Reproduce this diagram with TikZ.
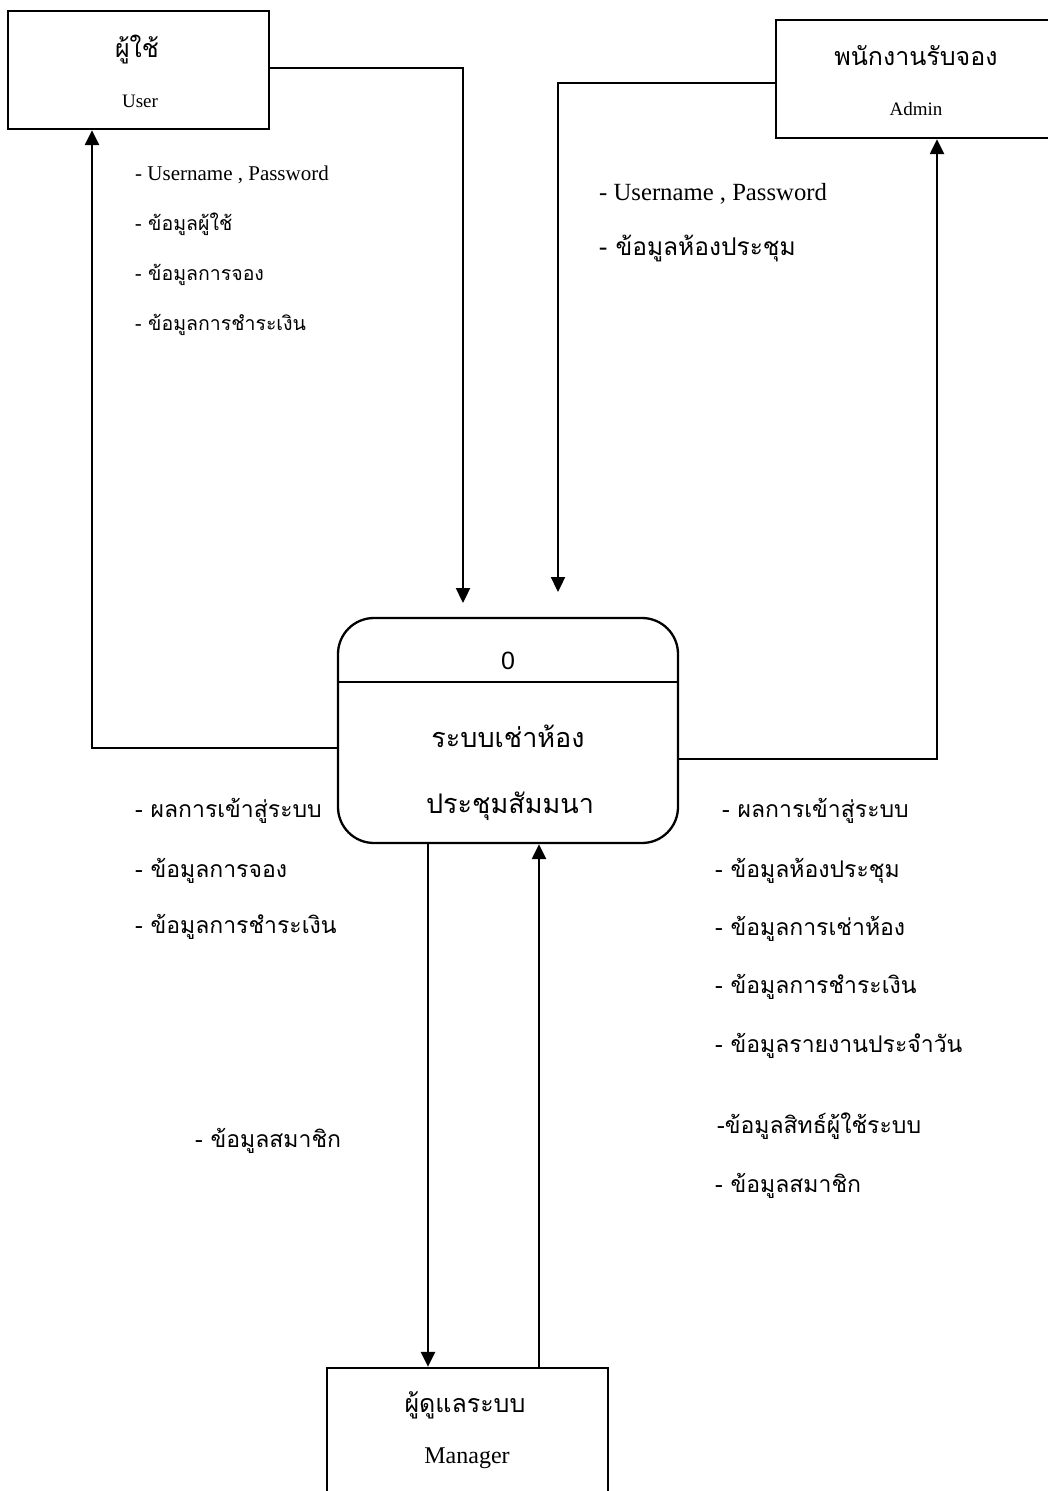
\documentclass[tikz,border=0pt]{standalone}
\usepackage{fontspec}
\setmainfont{Liberation Serif}
\newfontfamily\thai[Script=Thai]{Loma}
\newfontfamily\zsans{Liberation Sans}
\usetikzlibrary{arrows.meta}
\tikzset{
  box/.style={draw, line width=2.3pt, rectangle, inner sep=0pt},
  arr/.style={line width=2.3pt, -{Triangle[length=15pt,width=14pt]}},
  ln/.style={line width=2.3pt},
  th/.style={inner sep=0pt, anchor=base, font=\thai\fontsize{25}{30}\selectfont},
  thp/.style={inner sep=0pt, anchor=base, font=\thai\fontsize{27}{32}\selectfont},
  en/.style={inner sep=0pt, anchor=base, font=\fontsize{19}{23}\selectfont},
  lbl/.style={inner sep=0pt, anchor=base west, font=\thai\fontsize{23}{28}\selectfont},
  lblt/.style={inner sep=0pt, anchor=base west, font=\thai\fontsize{24.5}{29}\selectfont},
  lbls/.style={inner sep=0pt, anchor=base west, font=\thai\fontsize{19.5}{24}\selectfont},
  lblen/.style={inner sep=0pt, anchor=base west, font=\fontsize{24.7}{29}\selectfont},
  lblens/.style={inner sep=0pt, anchor=base west, font=\fontsize{21}{25}\selectfont},
}
\begin{document}
\begin{tikzpicture}[x=1pt,y=-1pt]
\useasboundingbox (0,0) rectangle (1048,1491);
% boxes
\node[box, minimum width=261pt, minimum height=118pt] (user) at (138.5,70) {};
\node[box, minimum width=276pt, minimum height=118pt] (admin) at (914,79) {};
\node[box, minimum width=340pt, minimum height=225pt, rounded corners=36pt] (proc) at (508,730.5) {};
\node[box, minimum width=281pt, minimum height=140pt] (mgr) at (467.5,1438) {};
\draw[ln] (proc.west |- 0,682) -- (proc.east |- 0,682);
% box texts
\node[th] (userT) at (137,57) {ผู้ใช้};
\node[en] (userE) at (140,107) {User};
\node[th] (adminT) at (916,65) {พนักงานรับจอง};
\node[en] (adminE) at (916,115) {Admin};
\node[inner sep=0pt, anchor=base, font=\zsans\fontsize{25}{30}\selectfont] (procN) at (508,669) {0};
\node[thp] (procT1) at (508,747) {ระบบเช่าห้อง};
\node[thp] (procT2) at (510,813) {ประชุมสัมมนา};
\node[th] (mgrT) at (465,1412) {ผู้ดูแลระบบ};
\node[en, font=\fontsize{24}{28}\selectfont] (mgrE) at (467,1463) {Manager};
% connectors
\coordinate (pinU) at (463,603);
\coordinate (pinA) at (558,592);
\draw[arr] (user.east |- 0,68) -| (pinU);
\draw[arr] (admin.west |- 0,83) -| (pinA);
\draw[arr] (proc.west |- 0,748) -| (user.south -| 92,0);
\draw[arr] (proc.east |- 0,759) -| (admin.south -| 937,0);
\draw[arr] (proc.south -| 428,0) -- (mgr.north -| 428,0);
\draw[arr] (mgr.north -| 539,0) -- (proc.south -| 539,0);
% labels top-left
\node[lblens] (l1) at (135,180) {- Username , Password};
\node[lbls] (l2) at (135,230) {- ข้อมูลผู้ใช้};
\node[lbls] (l3) at (135,280) {- ข้อมูลการจอง};
\node[lbls] (l4) at (135,330) {- ข้อมูลการชำระเงิน};
% labels top-right
\node[lblen] (r1) at (599,200) {- Username , Password};
\node[lblt] (r2) at (599,255) {- ข้อมูลห้องประชุม};
% labels bottom-left
\node[lbl] (b1) at (135,817) {- ผลการเข้าสู่ระบบ};
\node[lbl] (b2) at (135,877) {- ข้อมูลการจอง};
\node[lbl] (b3) at (135,933) {- ข้อมูลการชำระเงิน};
% middle
\node[lbl] (m1) at (195,1147) {- ข้อมูลสมาชิก};
% labels bottom-right
\node[lbl] (c1) at (722,817) {- ผลการเข้าสู่ระบบ};
\node[lbl] (c2) at (715,877) {- ข้อมูลห้องประชุม};
\node[lbl] (c3) at (715,935) {- ข้อมูลการเช่าห้อง};
\node[lbl] (c4) at (715,993) {- ข้อมูลการชำระเงิน};
\node[lbl] (c5) at (715,1052) {- ข้อมูลรายงานประจำวัน};
\node[lbl] (c6) at (717,1133) {-ข้อมูลสิทธ์ผู้ใช้ระบบ};
\node[lbl] (c7) at (715,1192) {- ข้อมูลสมาชิก};
\end{tikzpicture}
\end{document}
